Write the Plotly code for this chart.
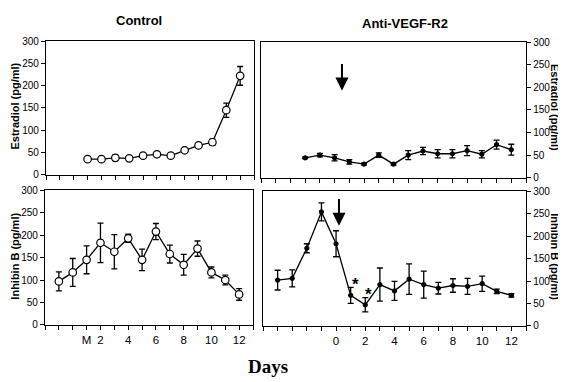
import plotly.graph_objects as go

# ---------------- data ----------------
ctrl_e2_days = [1, 2, 3, 4, 5, 6, 7, 8, 9, 10, 11, 12]
ctrl_e2 = [35, 35, 38, 37, 43, 46, 43, 55, 66, 73, 145, 222]
ctrl_e2_err = [2, 2, 6, 2, 3, 6, 3, 3, 3, 7, 16, 21]

trt_e2_days = [-2, -1, 0, 1, 2, 3, 4, 5, 6, 7, 8, 9, 10, 11, 12]
trt_e2 = [44, 50, 44, 35, 30, 50, 30, 50, 59, 53, 53, 60, 52, 73, 62]
trt_e2_err = [2, 4, 7, 5, 2, 5, 2, 10, 8, 9, 9, 11, 8, 10, 12]

ctrl_inh_days = [-1, 0, 1, 2, 3, 4, 5, 6, 7, 8, 9, 10, 11, 12]
ctrl_inh = [97, 117, 145, 183, 163, 193, 145, 208, 158, 134, 170, 117, 100, 68]
ctrl_inh_err = [21, 31, 31, 44, 38, 9, 24, 18, 20, 23, 17, 12, 11, 13]

trt_inh_days = [-4, -3, -2, -1, 0, 1, 2, 3, 4, 5, 6, 7, 8, 9, 10, 11, 12]
trt_inh = [102, 106, 173, 254, 183, 68, 47, 92, 78, 104, 92, 84, 90, 88, 94, 77, 68]
trt_inh_err = [22, 19, 10, 20, 29, 18, 16, 37, 21, 34, 30, 13, 15, 18, 17, 5, 4]

ctrl_tick_vals = list(range(-2, 14))
ctrl_tick_text = ["", "", "", "M", "2", "", "4", "", "6", "", "8", "", "10", "", "12", ""]
trt_tick_vals = list(range(-5, 14))
trt_tick_text = ["", "", "", "", "", "0", "", "2", "", "4", "", "6", "", "8", "", "10", "", "12", ""]
y_ticks = [0, 50, 100, 150, 200, 250, 300]

panel_titles = ["Control", "Anti-VEGF-R2"]
y_titles = ["Estradiol (pg/ml)", "Inhibin B (pg/ml)"]
x_title = "Days"

# ---------------- figure ----------------
W, H = 566, 382
FONT = "Liberation Sans, Arial, sans-serif"

def dom_x(a, b):
    return [a / W, b / W]

def dom_y(top, bottom):
    return [1 - bottom / H, 1 - top / H]

fig = go.Figure()

def add_series(x, y, err, xa, ya, open_marker):
    fig.add_trace(go.Scatter(
        x=x, y=y, xaxis=xa, yaxis=ya, mode="lines+markers",
        line=dict(color="black", width=1.3),
        marker=dict(size=7.5 if open_marker else 4,
                    color="white" if open_marker else "black",
                    line=dict(color="black", width=1.2)),
        error_y=dict(type="data", array=err, visible=True,
                     color="black", thickness=1.3, width=3),
        showlegend=False, cliponaxis=False,
    ))

add_series(ctrl_e2_days, ctrl_e2, ctrl_e2_err, "x", "y", True)
add_series(trt_e2_days, trt_e2, trt_e2_err, "x2", "y2", False)
add_series(ctrl_inh_days, ctrl_inh, ctrl_inh_err, "x3", "y3", True)
add_series(trt_inh_days, trt_inh, trt_inh_err, "x4", "y4", False)

tickfont = dict(family=FONT, size=10, color="black")

def xax(domain, anchor, rng, vals, text, labels):
    return dict(domain=domain, anchor=anchor, range=rng, tickmode="array",
                tickvals=vals, ticktext=text, showticklabels=labels,
                ticks="outside", ticklen=4, tickwidth=1.2, tickcolor="black",
                showline=True, linecolor="black", linewidth=1.3, mirror=True,
                showgrid=False, zeroline=False,
                tickfont=dict(family=FONT, size=11.5, color="black"))

def yax(domain, anchor, side):
    return dict(domain=domain, anchor=anchor, range=[0, 300], side=side,
                tickmode="array", tickvals=y_ticks,
                ticks="outside", ticklen=4, tickwidth=1.2, tickcolor="black",
                showline=True, linecolor="black", linewidth=1.3, mirror=True,
                showgrid=False, zeroline=False, tickfont=tickfont)

fig.update_layout(
    width=W, height=H, margin=dict(l=0, r=0, t=0, b=0),
    plot_bgcolor="white", paper_bgcolor="white",
    xaxis=xax(dom_x(38, 246), "y", [-2, 13], ctrl_tick_vals, ctrl_tick_text, False),
    yaxis=yax(dom_y(28, 166), "x", "left"),
    xaxis2=xax(dom_x(253, 518), "y2", [-5, 13], trt_tick_vals, trt_tick_text, False),
    yaxis2=yax(dom_y(29, 169), "x2", "right"),
    xaxis3=xax(dom_x(37, 245), "y3", [-2, 13], ctrl_tick_vals, ctrl_tick_text, True),
    yaxis3=yax(dom_y(182, 321), "x3", "left"),
    xaxis4=xax(dom_x(255, 518), "y4", [-5, 13], trt_tick_vals, trt_tick_text, True),
    yaxis4=yax(dom_y(183, 322), "x4", "right"),
)

ann = []
bold = dict(family=FONT, size=13, color="black")
# panel titles
ann.append(dict(text="<b>%s</b>" % panel_titles[0], x=131 / W, y=1 - 7 / H, xref="paper", yref="paper",
                showarrow=False, font=bold, xanchor="center", yanchor="middle"))
ann.append(dict(text="<b>%s</b>" % panel_titles[1], x=397 / W, y=1 - 10 / H, xref="paper", yref="paper",
                showarrow=False, font=bold, xanchor="center", yanchor="middle"))
# y titles
ytf = dict(family=FONT, size=11, color="black")
for (xp, yp, t, ang) in [(7.5, 95, y_titles[0], -90), (7.5, 250, y_titles[1], -90),
                         (547, 96, y_titles[0], 90), (547, 250, y_titles[1], 90)]:
    ann.append(dict(text="<b>%s</b>" % t, x=xp / W, y=1 - yp / H, xref="paper", yref="paper",
                    showarrow=False, font=ytf, textangle=ang, xanchor="center", yanchor="middle"))
# x title
ann.append(dict(text="<b>%s</b>" % x_title, x=260 / W, y=1 - 364 / H, xref="paper", yref="paper",
                showarrow=False, font=dict(family="Liberation Serif, Times New Roman, serif", size=19, color="black"),
                xanchor="center", yanchor="middle"))
# arrows (treatment injection)
ann.append(dict(x=0.5, y=193, ax=0.5, ay=255, xref="x2", yref="y2", axref="x2", ayref="y2",
                text="", showarrow=True, arrowhead=2, arrowsize=1.3, arrowwidth=2, arrowcolor="black"))
ann.append(dict(x=0.2, y=223, ax=0.2, ay=286, xref="x4", yref="y4", axref="x4", ayref="y4",
                text="", showarrow=True, arrowhead=2, arrowsize=1.3, arrowwidth=2, arrowcolor="black"))
# significance asterisks
for (xs, ys) in [(1.3, 93), (2.25, 71)]:
    ann.append(dict(text="<b>*</b>", x=xs, y=ys, xref="x4", yref="y4", showarrow=False,
                    font=dict(family=FONT, size=17, color="black"), xanchor="center", yanchor="middle"))

fig.update_layout(annotations=ann)
fig.write_html("out.html")
